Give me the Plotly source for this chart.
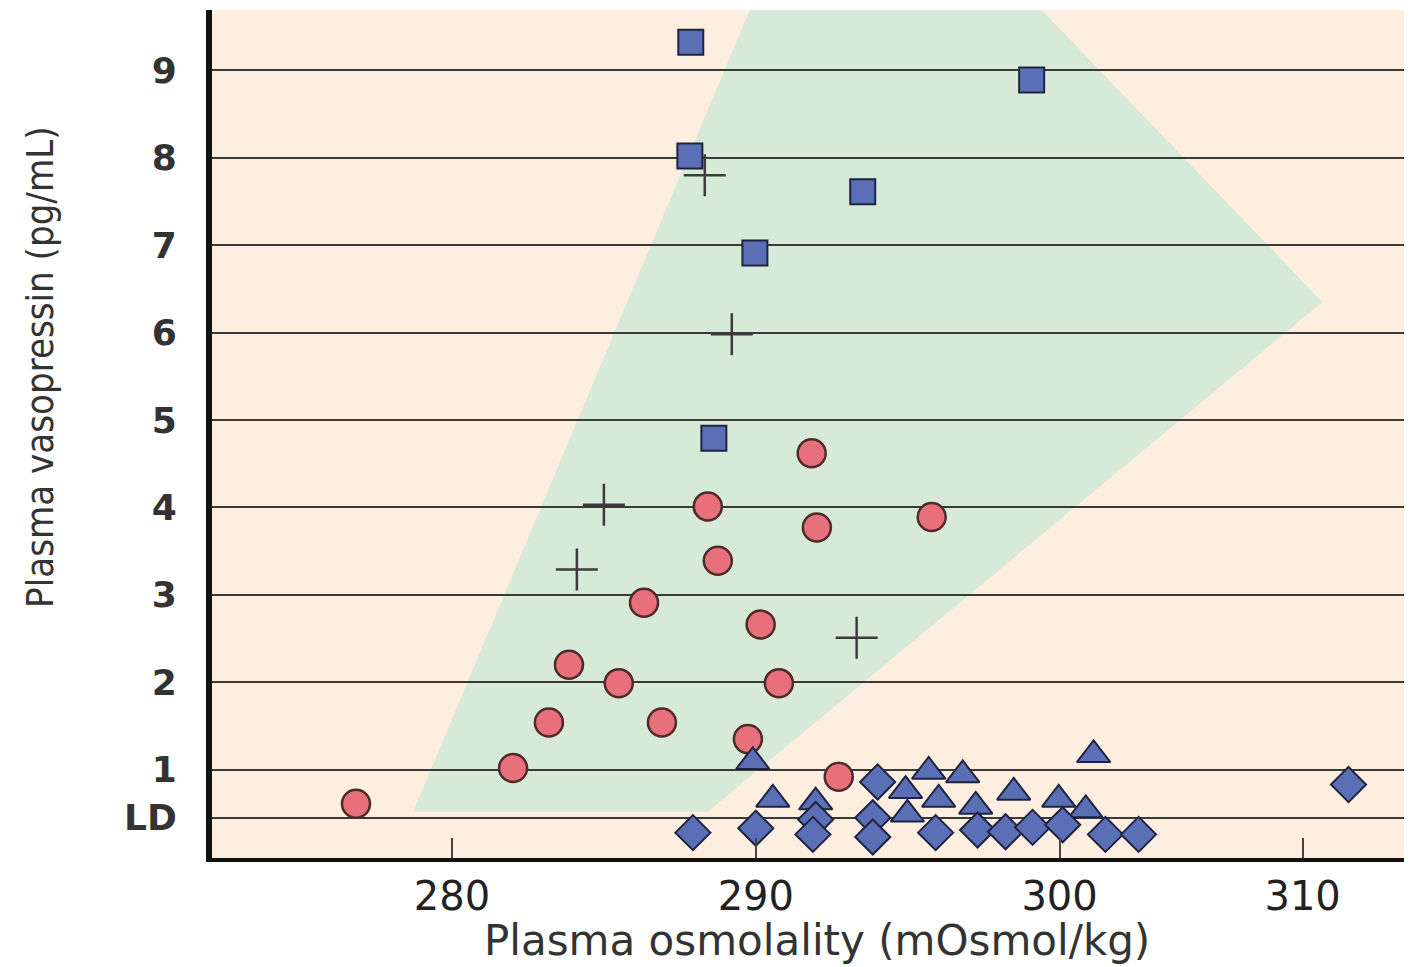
import plotly.graph_objects as go

# ---- data ----
SQUARE_X = [287.86, 299.08, 287.83, 293.52, 289.97, 288.62]
SQUARE_Y = [9.32, 8.89, 8.02, 7.61, 6.91, 4.79]

CROSS_X = [288.32, 289.21, 285.00, 284.11, 293.32]
CROSS_Y = [7.80, 5.98, 4.03, 3.29, 2.51]

CIRCLE_X = [291.84, 288.42, 295.79, 292.01, 288.75, 286.32, 290.16, 283.85,
            285.49, 290.76, 283.19, 286.91, 289.74, 282.01, 276.84, 292.73]
CIRCLE_Y = [4.62, 4.01, 3.89, 3.77, 3.39, 2.91, 2.66, 2.20,
            1.99, 1.99, 1.54, 1.54, 1.35, 1.02, 0.61, 0.92]

TRIANGLE_X = [289.90, 290.56, 291.97, 294.93, 294.99, 295.69, 296.81, 296.02,
              298.49, 299.97, 300.86, 297.24, 301.12]
TRIANGLE_Y = [1.09, 0.66, 0.63, 0.76, 0.49, 0.98, 0.94, 0.66,
              0.74, 0.66, 0.54, 0.58, 1.17]

DIAMOND_X = [287.93, 290.00, 291.97, 291.88, 293.85, 294.01, 293.85, 295.92,
             297.30, 298.22, 299.11, 300.10, 301.51, 302.60, 309.51]
DIAMOND_Y = [0.28, 0.33, 0.43, 0.26, 0.45, 0.86, 0.23, 0.28,
             0.31, 0.29, 0.34, 0.37, 0.26, 0.26, 0.83]

# normal-range region (polygon vertices)
REGION_X = [278.72, 289.80, 299.41, 308.65, 288.42]
REGION_Y = [0.52, 9.69, 9.69, 6.35, 0.52]

Y_TICK_VALS = [0.45, 1, 2, 3, 4, 5, 6, 7, 8, 9]
Y_TICK_TEXT = ["LD", "1", "2", "3", "4", "5", "6", "7", "8", "9"]
X_TICK_VALS = [280, 290, 300, 308]
X_TICK_TEXT = ["280", "290", "300", "310"]

X_TITLE = "Plasma osmolality (mOsmol/kg)"
Y_TITLE = "Plasma vasopressin (pg/mL)"

# ---- styles ----
BEIGE = "#FDEEDF"
GREEN = "#D7E9D7"
BLUE = "#5A6FB6"
BLUE_EDGE = "#1E2440"
PINK = "#E8707A"
PINK_EDGE = "#4E2A2A"

fig = go.Figure()

path = "M " + " L ".join(f"{x},{y}" for x, y in zip(REGION_X, REGION_Y)) + " Z"
fig.add_shape(type="path", path=path, xref="x", yref="y",
              fillcolor=GREEN, line=dict(width=0), layer="below")

fig.add_trace(go.Scatter(x=CIRCLE_X, y=CIRCLE_Y, mode="markers",
                         marker=dict(symbol="circle", size=28, color=PINK,
                                     line=dict(color=PINK_EDGE, width=2.5)),
                         showlegend=False))
fig.add_trace(go.Scatter(x=CROSS_X, y=CROSS_Y, mode="markers",
                         marker=dict(symbol="cross-thin", size=30, color="#3c3c3c",
                                     line=dict(color="#3c3c3c", width=2.5)),
                         showlegend=False))
fig.add_trace(go.Scatter(x=SQUARE_X, y=SQUARE_Y, mode="markers",
                         marker=dict(symbol="square", size=25, color=BLUE,
                                     line=dict(color=BLUE_EDGE, width=2)),
                         showlegend=False))
fig.add_trace(go.Scatter(x=TRIANGLE_X, y=TRIANGLE_Y, mode="markers",
                         marker=dict(symbol="triangle-up", size=29, color=BLUE,
                                     line=dict(color=BLUE_EDGE, width=2)),
                         showlegend=False))
fig.add_trace(go.Scatter(x=DIAMOND_X, y=DIAMOND_Y, mode="markers",
                         marker=dict(symbol="diamond", size=27, color=BLUE,
                                     line=dict(color=BLUE_EDGE, width=2)),
                         showlegend=False))

fig.update_xaxes(range=[272.1, 311.6], tickvals=X_TICK_VALS, ticktext=X_TICK_TEXT,
                 showgrid=False, zeroline=False,
                 showline=True, linecolor="#111111", linewidth=4,
                 ticks="inside", ticklen=20, tickwidth=2, tickcolor="#444444",
                 ticklabelstandoff=0,
                 tickfont=dict(family="DejaVu Sans", size=40, color="#222222"))
fig.update_yaxes(range=[-0.01, 9.69], tickvals=Y_TICK_VALS, ticktext=Y_TICK_TEXT,
                 showgrid=True, gridcolor="#3a3a3a", gridwidth=2, zeroline=False,
                 showline=True, linecolor="#111111", linewidth=6,
                 ticks="", ticklabelstandoff=22,
                 tickfont=dict(family="DejaVu Sans", size=36, color="#333333",
                               weight="bold"))

fig.add_annotation(text=X_TITLE, xref="paper", yref="paper", x=0.504, y=-0.097,
                   xanchor="center", yanchor="middle", showarrow=False,
                   font=dict(family="DejaVu Sans", size=42, color="#333333"))
fig.add_annotation(text=Y_TITLE, xref="paper", yref="paper", x=-0.1433, y=0.578,
                   xanchor="center", yanchor="middle", showarrow=False, textangle=-90,
                   font=dict(family="DejaVu Sans Condensed, Liberation Sans Narrow, DejaVu Sans",
                             size=38, color="#333333"))

fig.update_layout(width=1404, height=959, autosize=False,
                  margin=dict(l=204, r=0, t=2, b=109),
                  plot_bgcolor=BEIGE, paper_bgcolor="white")

fig.write_html("out.html")
